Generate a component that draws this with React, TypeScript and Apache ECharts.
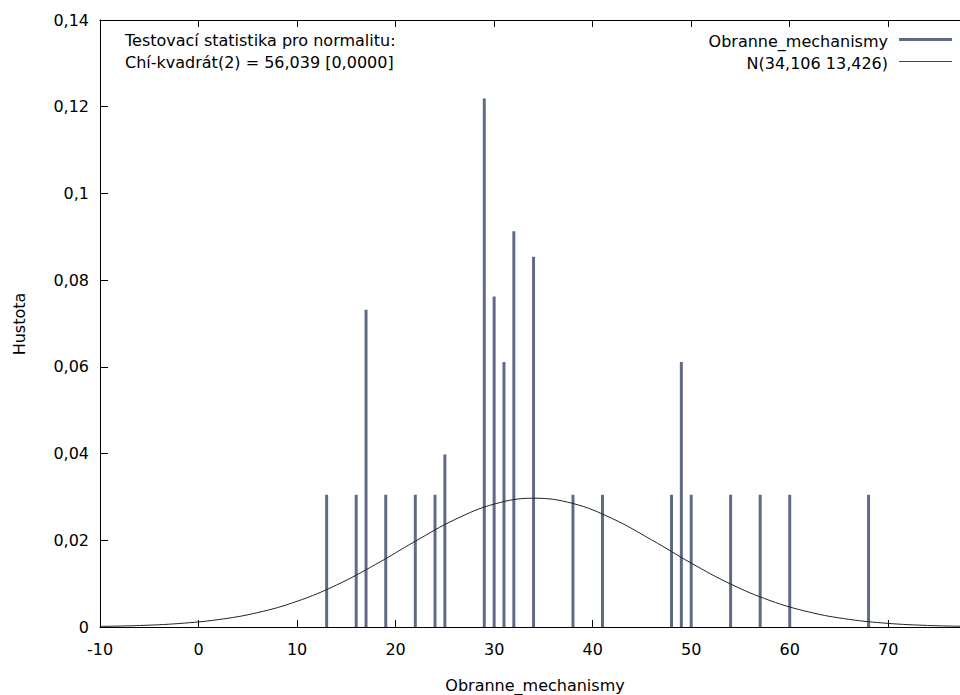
import React, { useEffect, useRef } from "react";
import * as echarts from "echarts";

// Observed values (x) and bar heights (density)
const barX = [13, 16, 17, 19, 22, 24, 25, 29, 30, 31, 32, 34, 38, 41, 48, 49, 50, 54, 57, 60, 68];
const barY = [0.0305, 0.0305, 0.0732, 0.0305, 0.0305, 0.0305, 0.0398, 0.1219, 0.0762, 0.0611, 0.0913, 0.0854, 0.0305, 0.0305, 0.0305, 0.0611, 0.0305, 0.0305, 0.0305, 0.0305, 0.0305];

// Normal curve N(34,106 13,426) read at every 4 units
const curveX = [-10, -6, -2, 2, 6, 10, 14, 18, 22, 26, 30, 34, 38, 42, 46, 50, 54, 58, 62, 66, 70, 74, 78];
const curveY = [0.000135, 0.000343, 0.000799, 0.001703, 0.003321, 0.005925, 0.009677, 0.01447, 0.01978, 0.02476, 0.02835, 0.02971, 0.02849, 0.025, 0.02007, 0.01474, 0.00991, 0.0061, 0.003432, 0.001768, 0.000833, 0.000359, 0.000142];

const yTicks = [0, 0.02, 0.04, 0.06, 0.08, 0.1, 0.12, 0.14];
const xMin = -10;
const xMax = 77.28;

const seriesName = "Obranne_mechanismy";
const curveName = "N(34,106 13,426)";
const statLine1 = "Testovací statistika pro normalitu:";
const statLine2 = "Chí-kvadrát(2) = 56,039 [0,0000]";
const yName = "Hustota";

const FONT = "DejaVu Sans";
const BAR_COLOR = "#5f6b84";

export default function App() {
  const ref = useRef<HTMLDivElement>(null);
  useEffect(() => {
    document.body.style.margin = "0";
    if (!ref.current) return;
    const chart = echarts.init(ref.current, null, { renderer: "svg" });
    const fmt = (v: number) => {
      if (v === 0) return "0";
      return String(+v.toFixed(2)).replace(".", ",");
    };
    const xCommon = {
      type: "value",
      min: xMin,
      max: xMax,
      interval: 10,
      axisLine: { show: true, onZero: false, lineStyle: { color: "#000", width: 1 } },
      axisTick: { show: true, inside: true, length: 7, lineStyle: { color: "#000" } },
      splitLine: { show: false },
    };
    chart.setOption({
      animation: false,
      backgroundColor: "#ffffff",
      textStyle: { fontFamily: FONT },
      grid: { left: 100, right: 0, top: 20, bottom: 68, containLabel: false },
      xAxis: [
        {
          ...xCommon,
          position: "bottom",
          axisLabel: { show: true, showMaxLabel: false, margin: 14, fontSize: 16, color: "#000", fontFamily: FONT },
        },
        {
          ...xCommon,
          position: "top",
          axisLabel: { show: false },
        },
      ],
      yAxis: {
        type: "value",
        min: yTicks[0],
        max: yTicks[yTicks.length - 1],
        interval: 0.02,
        position: "left",
        axisLine: { show: true, onZero: false, lineStyle: { color: "#000", width: 1 } },
        axisTick: { show: true, inside: true, length: 8, lineStyle: { color: "#000" } },
        axisLabel: { show: true, margin: 11, fontSize: 16, color: "#000", fontFamily: FONT, formatter: fmt },
        splitLine: { show: false },
      },
      series: [
        {
          name: seriesName,
          type: "bar",
          xAxisIndex: 0,
          barWidth: 3,
          itemStyle: { color: BAR_COLOR },
          data: barX.map((x, i) => [x, barY[i]]),
          z: 2,
        },
        {
          name: curveName,
          type: "line",
          xAxisIndex: 0,
          smooth: 0.4,
          showSymbol: false,
          symbol: "none",
          clip: true,
          lineStyle: { color: "#222222", width: 1 },
          data: curveX.map((x, i) => [x, curveY[i]]),
          z: 3,
        },
      ],
      graphic: [
        {
          type: "text",
          left: 125,
          top: 32,
          style: { text: statLine1, font: `16px "${FONT}"`, fill: "#000" },
        },
        {
          type: "text",
          left: 125,
          top: 54,
          style: { text: statLine2, font: `16px "${FONT}"`, fill: "#000" },
        },
        {
          type: "text",
          x: 888,
          y: 41,
          style: { text: seriesName, font: `16px "${FONT}"`, fill: "#000", align: "right", verticalAlign: "middle" },
        },
        {
          type: "line",
          shape: { x1: 899, y1: 39.5, x2: 952, y2: 39.5 },
          style: { stroke: BAR_COLOR, lineWidth: 3 },
        },
        {
          type: "text",
          x: 888,
          y: 63,
          style: { text: curveName, font: `16px "${FONT}"`, fill: "#000", align: "right", verticalAlign: "middle" },
        },
        {
          type: "line",
          shape: { x1: 899, y1: 61.5, x2: 952, y2: 61.5 },
          style: { stroke: "#444444", lineWidth: 1 },
        },
        {
          type: "text",
          x: 19,
          y: 324,
          rotation: Math.PI / 2,
          style: { text: yName, font: `16px "${FONT}"`, fill: "#000", align: "center", verticalAlign: "middle" },
        },
        {
          type: "text",
          x: 535,
          y: 685,
          style: { text: seriesName, font: `16px "${FONT}"`, fill: "#000", align: "center", verticalAlign: "middle" },
        },
      ],
    });
    return () => chart.dispose();
  }, []);
  return <div ref={ref} style={{ width: 960, height: 695 }} />;
}
